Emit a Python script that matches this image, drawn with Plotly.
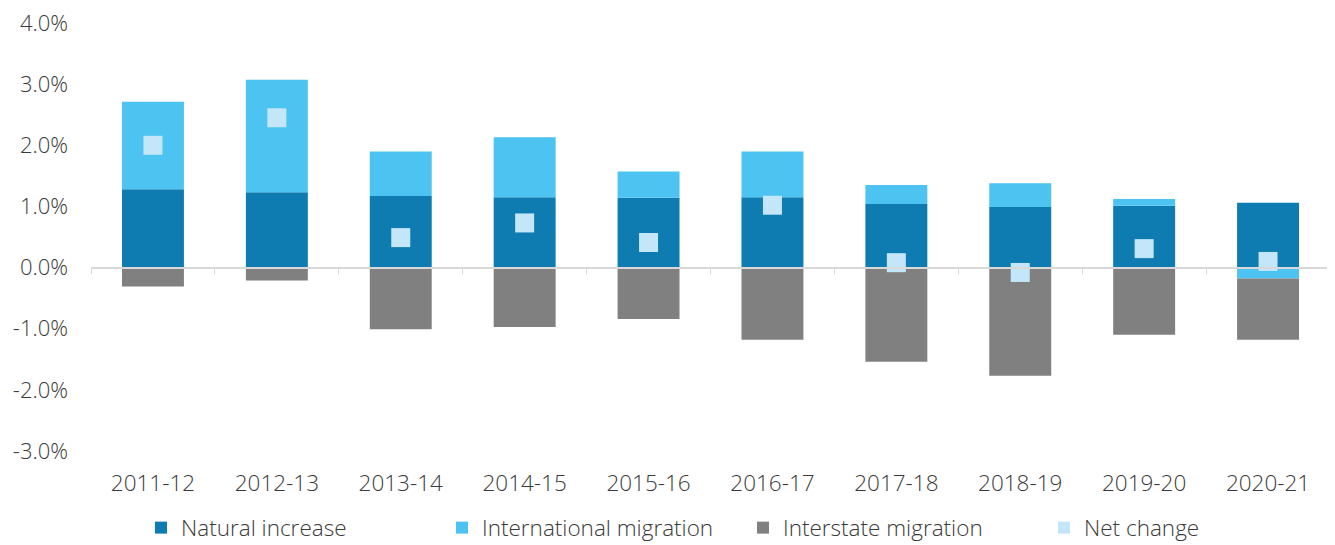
import plotly.graph_objects as go

years = ["2011-12", "2012-13", "2013-14", "2014-15", "2015-16",
         "2016-17", "2017-18", "2018-19", "2019-20", "2020-21"]
natural = [1.28, 1.23, 1.17, 1.15, 1.14, 1.15, 1.04, 0.99, 1.01, 1.06]
international = [1.43, 1.84, 0.73, 0.98, 0.43, 0.75, 0.31, 0.39, 0.11, -0.18]
interstate = [-0.31, -0.21, -1.01, -0.97, -0.84, -1.18, -1.54, -1.77, -1.10, -1.00]
net_change = [2.00, 2.45, 0.49, 0.73, 0.41, 1.02, 0.08, -0.08, 0.31, 0.10]
y_ticks = [-3, -2, -1, 0, 1, 2, 3, 4]
y_tick_labels = ["-3.0%", "-2.0%", "-1.0%", "0.0%", "1.0%", "2.0%", "3.0%", "4.0%"]

C_NAT = "#0f7cb1"
C_INT = "#4cc3f0"
C_IST = "#808080"
C_NET = "#c3e6f8"

fig = go.Figure()
fig.add_trace(go.Bar(x=years, y=natural, name="Natural increase",
                     marker=dict(color=C_NAT, line=dict(width=0))))
fig.add_trace(go.Bar(x=years, y=international, name="International migration",
                     marker=dict(color=C_INT, line=dict(width=0))))
fig.add_trace(go.Bar(x=years, y=interstate, name="Interstate migration",
                     marker=dict(color=C_IST, line=dict(width=0))))
fig.add_trace(go.Scatter(x=years, y=net_change, name="Net change", mode="markers",
                         showlegend=False,
                         marker=dict(symbol="square", size=19, color=C_NET,
                                     line=dict(width=0))))
# legend entry for net change (smaller square)
fig.add_trace(go.Scatter(x=[None], y=[None], name="Net change", mode="markers",
                         marker=dict(symbol="square", size=12, color=C_NET,
                                     line=dict(width=0))))
# invisible trace carrying the zero-line axis with boundary ticks
fig.add_trace(go.Scatter(x=years, y=[0] * len(years), xaxis="x2", mode="markers",
                         marker=dict(opacity=0), showlegend=False, hoverinfo="skip"))

ymin, ymax = -3.0, 4.0
font = "Open Sans, Noto Sans, sans-serif"
light = "#3a3a3a"
W, H = 1327, 537  # page body has an 8px margin

fig.update_layout(
    width=W, height=H,
    margin=dict(l=83, r=5, t=15, b=94, autoexpand=False),
    paper_bgcolor="white", plot_bgcolor="white",
    barmode="relative", bargap=0.5,
    font=dict(family=font, size=22, color=light, weight=300),
    showlegend=True,
    legend=dict(orientation="h", xref="container", x=133 / W, xanchor="left",
                yref="container", y=17 / H, yanchor="middle",
                font=dict(size=22.5, color=light, weight=300), itemwidth=30,
                traceorder="normal", entrywidth=256),
    xaxis=dict(type="category", categoryarray=years, range=[-0.5, 9.5],
               showgrid=False, showline=False, ticks="", automargin=False,
               zeroline=False, tickfont=dict(size=22.5, color=light, weight=300),
               ticklabelstandoff=16, ticklabeloverflow="allow"),
    xaxis2=dict(type="category", categoryarray=years, range=[-0.5, 9.5],
                overlaying="x", anchor="free",
                position=(0 - ymin) / (ymax - ymin), automargin=False,
                showline=True, linecolor="#d9d9d9", linewidth=1.5,
                ticks="outside", ticklen=6, tickcolor="#d9d9d9", tickwidth=1,
                tickson="boundaries", showticklabels=False, showgrid=False,
                zeroline=False),
    yaxis=dict(range=[ymin, ymax], tickvals=y_ticks, ticktext=y_tick_labels,
               showgrid=False, zeroline=False, showline=False, automargin=False,
               tickfont=dict(size=22, color=light, weight=300), ticklabelstandoff=22,
               ticklabeloverflow="allow"),
)

fig.write_html("out.html")
